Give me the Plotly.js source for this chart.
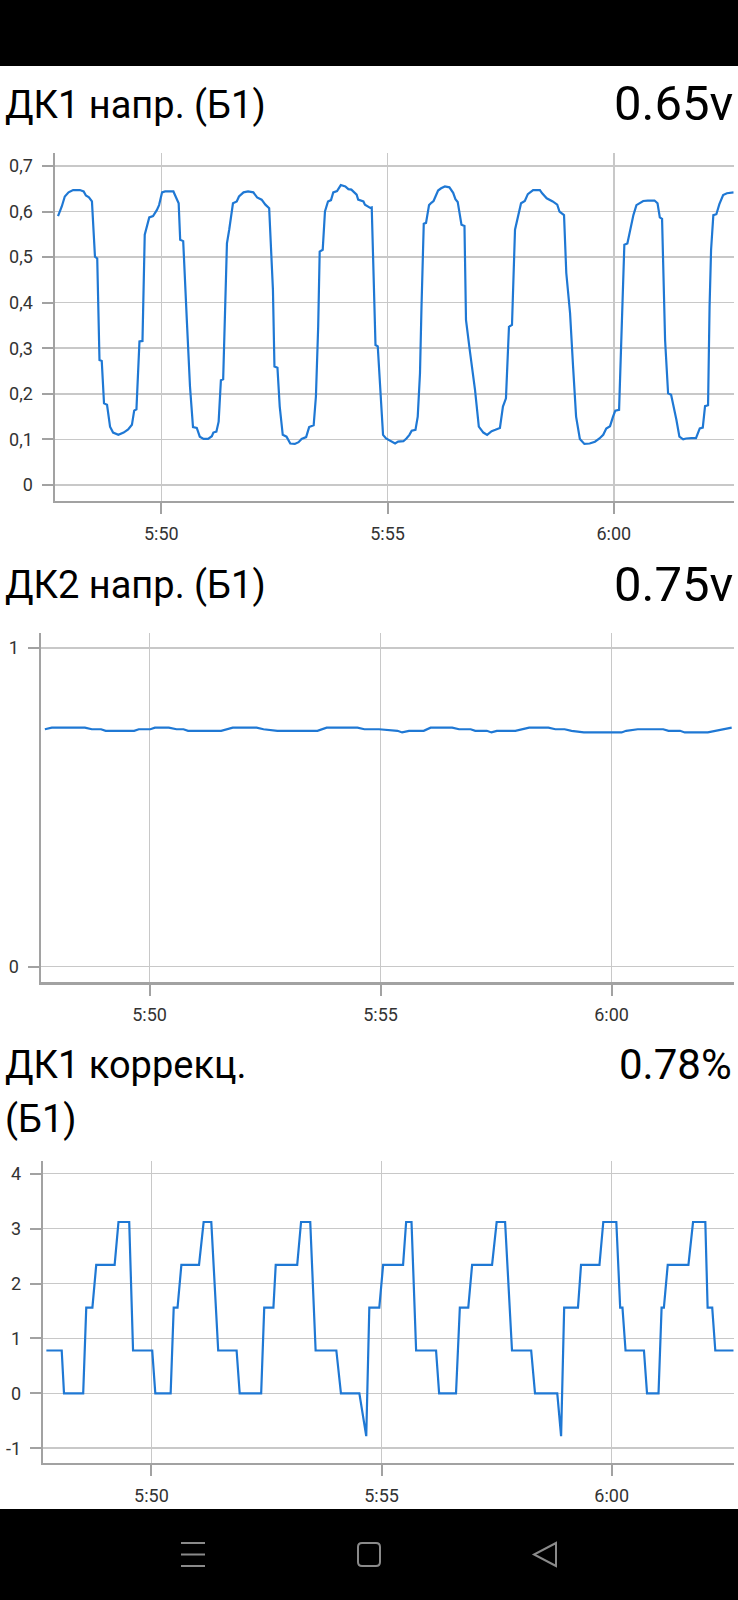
<!DOCTYPE html>
<html><head><meta charset="utf-8">
<script src="https://cdn.plot.ly/plotly-3.0.1.min.js"></script>
<style>html,body{margin:0;padding:0;background:#fff;overflow:hidden}#chart{width:738px;height:1600px}</style>
</head><body><div id="chart"></div>
<script>
// ---- data ----
const startTime = '05:47:39';   // left edge of the time window
const windowSeconds = 900;      // 15 minutes shown

const title1 = 'ДК1 напр. (Б1)';
const value1 = '0.65v';
const title2 = 'ДК2 напр. (Б1)';
const value2 = '0.75v';
const title3a = 'ДК1 коррекц.';
const title3b = '(Б1)';
const value3 = '0.78%';

// seconds after startTime
const t1 = [4,9,13,18,24,33,38,41,45,49,53,56,59,62,65,69,73,77,84,91,97,102,105,108,112,116,119,122,125,130,135,138,142,146,157,161,164,166,170,175,179,183,188,192,197,203,208,210,214,217,220,223,228,231,236,241,244,250,256,263,268,274,279,284,289,291,295,298,302,307,312,318,323,327,333,337,343,346,349,351,355,358,362,366,369,374,379,385,389,393,400,402,409,411,418,420,425,428,433,435,439,446,451,455,462,466,470,473,478,481,484,486,489,492,496,499,502,508,512,517,523,528,531,534,539,543,545,550,557,562,568,573,579,584,590,594,598,602,606,610,614,618,623,627,634,643,646,652,660,666,669,675,678,683,687,691,696,702,709,716,722,727,731,736,740,743,748,751,755,759,762,767,771,775,780,786,795,799,802,805,809,813,817,824,828,833,837,844,850,855,859,862,866,868,870,873,877,881,886,891,896,900];
const v1 = [0.590,0.611,0.633,0.642,0.647,0.647,0.644,0.635,0.631,0.622,0.501,0.497,0.274,0.272,0.179,0.176,0.128,0.115,0.110,0.115,0.122,0.132,0.163,0.166,0.315,0.316,0.549,0.567,0.587,0.590,0.603,0.614,0.642,0.644,0.644,0.629,0.618,0.538,0.535,0.355,0.216,0.127,0.125,0.106,0.101,0.101,0.107,0.115,0.117,0.139,0.230,0.232,0.530,0.560,0.618,0.622,0.633,0.642,0.644,0.642,0.631,0.626,0.615,0.607,0.428,0.260,0.257,0.172,0.110,0.106,0.091,0.090,0.094,0.101,0.105,0.127,0.131,0.194,0.347,0.512,0.516,0.600,0.622,0.625,0.642,0.645,0.658,0.655,0.649,0.648,0.637,0.626,0.622,0.615,0.608,0.609,0.307,0.304,0.179,0.110,0.102,0.095,0.091,0.095,0.096,0.102,0.110,0.119,0.121,0.150,0.245,0.391,0.573,0.575,0.614,0.619,0.623,0.646,0.651,0.655,0.653,0.641,0.627,0.621,0.571,0.568,0.362,0.296,0.208,0.128,0.115,0.110,0.118,0.121,0.125,0.172,0.190,0.347,0.351,0.560,0.590,0.618,0.623,0.638,0.647,0.647,0.640,0.629,0.622,0.615,0.600,0.592,0.465,0.377,0.260,0.150,0.101,0.090,0.091,0.095,0.102,0.110,0.124,0.129,0.150,0.163,0.165,0.340,0.527,0.530,0.554,0.592,0.614,0.618,0.623,0.624,0.624,0.618,0.587,0.584,0.318,0.201,0.198,0.143,0.106,0.100,0.102,0.103,0.103,0.124,0.126,0.173,0.175,0.391,0.516,0.592,0.594,0.616,0.636,0.640,0.642,0.642];

const t2 = [5,14,57,66,78,84,121,127,142,148,166,176,185,191,234,249,280,289,307,359,371,411,420,439,463,469,478,497,506,534,543,558,564,579,585,592,616,625,634,659,668,680,689,705,754,760,775,808,815,830,836,866,876,888,897];
const v2 = [0.745,0.75,0.75,0.745,0.745,0.74,0.74,0.745,0.745,0.75,0.75,0.745,0.745,0.74,0.74,0.75,0.75,0.745,0.74,0.74,0.75,0.75,0.745,0.745,0.74,0.735,0.74,0.74,0.75,0.75,0.745,0.745,0.74,0.74,0.735,0.74,0.74,0.745,0.75,0.75,0.745,0.745,0.74,0.735,0.735,0.74,0.745,0.745,0.74,0.74,0.735,0.735,0.74,0.745,0.75];

const t3 = [4,24,27,52,56,64,69,93,98,112,117,142,146,166,170,175,180,203,209,219,228,252,256,284,288,300,303,331,336,348,355,382,388,412,421,425,438,443,469,473,480,486,512,516,538,543,554,559,585,591,602,611,636,641,670,675,679,697,701,725,730,747,752,755,759,783,787,802,806,809,814,841,847,863,866,872,876,900];
const v3 = [0.78,0.78,0,0,1.56,1.56,2.34,2.34,3.12,3.12,0.78,0.78,0,0,1.56,1.56,2.34,2.34,3.12,3.12,0.78,0.78,0,0,1.56,1.56,2.34,2.34,3.12,3.12,0.78,0.78,0,0,-0.78,1.56,1.56,2.34,2.34,3.12,3.12,0.78,0.78,0,0,1.56,1.56,2.34,2.34,3.12,3.12,0.78,0.78,0,0,-0.78,1.56,1.56,2.34,2.34,3.12,3.12,1.56,1.56,0.78,0.78,0,0,1.56,1.56,2.34,2.34,3.12,3.12,1.56,1.56,0.78,0.78];

const xTickTimes = ['05:50:00','05:55:00','06:00:00'];
const xTickLabels = ['5:50','5:55','6:00'];
const yTicks1 = [0,0.1,0.2,0.3,0.4,0.5,0.6,0.7];
const yLabels1 = ['0','0,1','0,2','0,3','0,4','0,5','0,6','0,7'];
const yTicks2 = [0,1];
const yLabels2 = ['0','1'];
const yTicks3 = [-1,0,1,2,3,4];
const yLabels3 = ['-1','0','1','2','3','4'];

// ---- helpers ----
const DAY = '2024-01-01 ';
function pad(n){return String(n).padStart(2,'0');}
function toDate(sec){
  const p = startTime.split(':').map(Number);
  let tot = p[0]*3600 + p[1]*60 + p[2] + sec;
  const h = Math.floor(tot/3600); tot -= h*3600;
  const m = Math.floor(tot/60); const s = tot - m*60;
  return DAY + pad(h)+':'+pad(m)+':'+pad(s);
}
const W = 738, H = 1600;
const fx = x => x/W, fy = y => 1 - y/H;

const LINE = '#1f78d4';
const GRID = '#c8c8c8';
const AXIS = '#a2a2a2';
const FONT = 'Roboto, "Noto Sans", sans-serif';
const TICKFONT = {family: FONT, size: 18, color: '#333333'};

function xAxis(x0, x1, anchor){
  return {domain:[fx(x0), fx(x1)], anchor, type:'date',
    range:[toDate(0), toDate(windowSeconds)],
    tickmode:'array', tickvals: xTickTimes.map(t => DAY + t), ticktext: xTickLabels,
    showgrid:true, gridcolor:GRID, gridwidth:1.5, zeroline:false,
    showline:true, linecolor:AXIS, linewidth:2.5,
    ticks:'outside', ticklen:11, tickwidth:2, tickcolor:AXIS,
    tickfont:TICKFONT, ticklabelstandoff:4, fixedrange:true};
}
function yAxis(yTop, yBot, anchor, range, vals, labels){
  return {domain:[fy(yBot), fy(yTop)], anchor, range,
    tickmode:'array', tickvals: vals, ticktext: labels,
    showgrid:true, gridcolor:GRID, gridwidth:1.5, zeroline:false,
    showline:true, linecolor:AXIS, linewidth:2.5,
    ticks:'outside', ticklen:11, tickwidth:2, tickcolor:AXIS,
    tickfont:TICKFONT, ticklabelstandoff:5, fixedrange:true};
}
function trace(t, v, xa, ya){
  return {x: t.map(toDate), y: v, xaxis: xa, yaxis: ya, type:'scatter', mode:'lines',
    line:{color:LINE, width:2.2}, hoverinfo:'skip'};
}

const data = [trace(t1,v1,'x','y'), trace(t2,v2,'x2','y2'), trace(t3,v3,'x3','y3')];

function ann(text, x, y, xanchor, size){
  return {text, x: fx(x), y: fy(y), xref:'paper', yref:'paper', xanchor, yanchor:'middle',
    showarrow:false, font:{family:FONT, size, color:'#000'}};
}

const NAV = '#8a8a8a';
function roundRect(x0, y0, x1, y1, r){
  const P = (x, y) => fx(x) + ',' + fy(y);
  return 'M ' + P(x0+r, y0) + ' L ' + P(x1-r, y0) + ' Q ' + P(x1, y0) + ' ' + P(x1, y0+r) +
    ' L ' + P(x1, y1-r) + ' Q ' + P(x1, y1) + ' ' + P(x1-r, y1) +
    ' L ' + P(x0+r, y1) + ' Q ' + P(x0, y1) + ' ' + P(x0, y1-r) +
    ' L ' + P(x0, y0+r) + ' Q ' + P(x0, y0) + ' ' + P(x0+r, y0) + ' Z';
}
const layout = {
  width: W, height: H, margin:{l:0,r:0,t:0,b:0},
  paper_bgcolor:'#ffffff', plot_bgcolor:'rgba(0,0,0,0)', showlegend:false,
  xaxis: xAxis(55, 733.7, 'y'),
  yaxis: yAxis(152.7, 500.7, 'x', [-0.0345, 0.729], yTicks1, yLabels1),
  xaxis2: xAxis(41, 734, 'y2'),
  yaxis2: yAxis(633.3, 982.3, 'x2', [-0.049, 1.046], yTicks2, yLabels2),
  xaxis3: xAxis(43.3, 733.7, 'y3'),
  yaxis3: yAxis(1160.7, 1462.7, 'x3', [-1.264, 4.237], yTicks3, yLabels3),
  annotations: [
    ann(title1, 3, 105, 'left', 38),
    ann(value1, 735, 104, 'right', 49),
    ann(title2, 3, 585, 'left', 38),
    ann(value2, 735, 584, 'right', 49),
    ann(title3a, 3, 1065, 'left', 38),
    ann(title3b, 3, 1119, 'left', 38),
    ann(value3, 734, 1064, 'right', 42)
  ],
  shapes: [
    {type:'rect', xref:'paper', yref:'paper', x0:0, x1:1, y0:fy(66), y1:1, fillcolor:'#000', line:{width:0}, layer:'above'},
    {type:'rect', xref:'paper', yref:'paper', x0:0, x1:1, y0:0, y1:fy(1509), fillcolor:'#000', line:{width:0}, layer:'above'},
    {type:'line', xref:'paper', yref:'paper', x0:fx(181), x1:fx(205), y0:fy(1543), y1:fy(1543), line:{color:NAV, width:2}},
    {type:'line', xref:'paper', yref:'paper', x0:fx(181), x1:fx(205), y0:fy(1554.5), y1:fy(1554.5), line:{color:NAV, width:2}},
    {type:'line', xref:'paper', yref:'paper', x0:fx(181), x1:fx(205), y0:fy(1566), y1:fy(1566), line:{color:NAV, width:2}},
    {type:'path', xref:'paper', yref:'paper', path: roundRect(358, 1543, 380, 1566, 4), line:{color:NAV, width:2}},
    {type:'path', xref:'paper', yref:'paper',
      path:'M '+fx(556)+','+fy(1543)+' L '+fx(534)+','+fy(1554.5)+' L '+fx(556)+','+fy(1566)+' Z', line:{color:NAV, width:2}}
  ]
};

Plotly.newPlot('chart', data, layout, {staticPlot:true, displayModeBar:false});
</script></body></html>
